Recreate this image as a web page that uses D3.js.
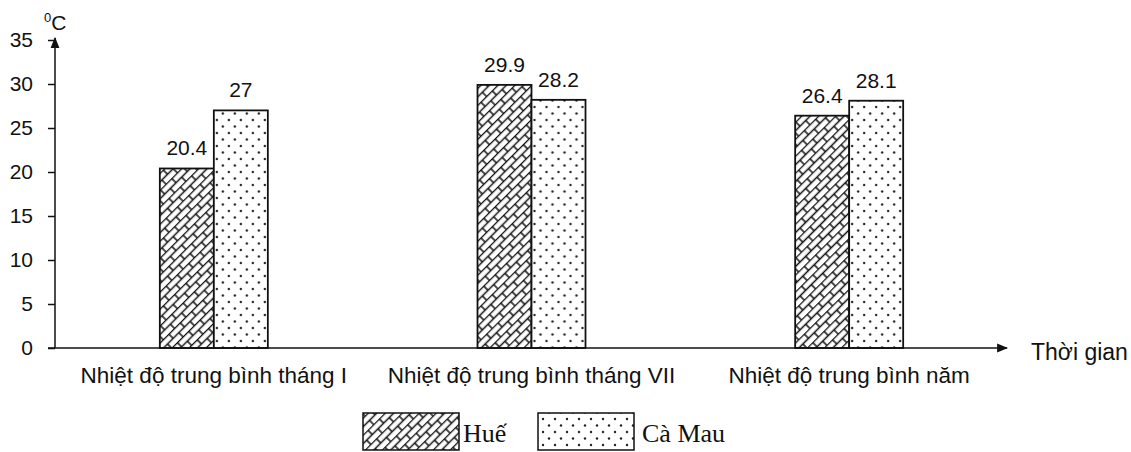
<!DOCTYPE html>
<html>
<head>
<meta charset="utf-8">
<script src="https://cdn.jsdelivr.net/npm/d3@7"></script>
<style>
  body { margin: 0; background: #fff; }
  text { font-family: Arial, "Liberation Sans", sans-serif; fill: #111; }
</style>
</head>
<body>
<script>
const categories = ['Nhiệt độ trung bình tháng I', 'Nhiệt độ trung bình tháng VII', 'Nhiệt độ trung bình năm'];
const series = ['Huế', 'Cà Mau'];
const hue = [20.4, 29.9, 26.4];
const caMau = [27, 28.2, 28.1];
const yTicks = [0, 5, 10, 15, 20, 25, 30, 35];

const width = 1131, height = 452;
const svg = d3.select('body').append('svg')
    .attr('width', width)
    .attr('height', height);

const defs = svg.append('defs');

// brick-like diagonal hatch for Huế
const brick = defs.append('pattern')
    .attr('id', 'brick')
    .attr('patternUnits', 'userSpaceOnUse')
    .attr('width', 16)
    .attr('height', 12)
    .attr('patternTransform', 'rotate(-45)');
brick.append('rect').attr('width', 16).attr('height', 12).attr('fill', '#fff');
brick.append('path')
    .attr('d', 'M0,0.5H16M0,6.5H16M4,0.5V6.5M12,6.5V12.5')
    .attr('stroke', '#111')
    .attr('stroke-width', 1.5)
    .attr('fill', 'none');

// dotted fill for Cà Mau
const dots = defs.append('pattern')
    .attr('id', 'dots')
    .attr('patternUnits', 'userSpaceOnUse')
    .attr('width', 12)
    .attr('height', 13);
dots.append('rect').attr('width', 12).attr('height', 13).attr('fill', '#fff');
dots.append('circle').attr('cx', 3).attr('cy', 3).attr('r', 1.2).attr('fill', '#222');
dots.append('circle').attr('cx', 9).attr('cy', 9.5).attr('r', 1.2).attr('fill', '#222');

const fills = {'Huế': 'url(#brick)', 'Cà Mau': 'url(#dots)'};

const x0 = d3.scaleBand().domain(categories).range([55, 1008]).padding(0);
const x1 = d3.scaleBand().domain(series).range([-54, 54]).padding(0);
const y = d3.scaleLinear().domain([0, 35]).range([348, 40]);

// arrow marker
defs.append('marker')
    .attr('id', 'arrow')
    .attr('viewBox', '0 0 10 10')
    .attr('refX', 9).attr('refY', 5)
    .attr('markerWidth', 11).attr('markerHeight', 11)
    .attr('markerUnits', 'userSpaceOnUse')
    .attr('orient', 'auto')
    .append('path')
    .attr('d', 'M0,1L10,5L0,9Z')
    .attr('fill', '#111');

// bars
const rows = categories.map((c, i) => ({cat: c, values: [
    {s: 'Huế', v: hue[i]}, {s: 'Cà Mau', v: caMau[i]}
]}));

const groups = svg.selectAll('g.grp')
    .data(rows)
    .enter().append('g')
    .attr('class', 'grp')
    .attr('transform', d => `translate(${x0(d.cat) + x0.bandwidth() / 2},0)`);

groups.selectAll('rect')
    .data(d => d.values)
    .enter().append('rect')
    .attr('x', d => x1(d.s))
    .attr('y', d => y(d.v))
    .attr('width', x1.bandwidth())
    .attr('height', d => y(0) - y(d.v))
    .attr('fill', d => fills[d.s])
    .attr('stroke', '#111')
    .attr('stroke-width', 1.8);

groups.selectAll('text.val')
    .data(d => d.values)
    .enter().append('text')
    .attr('class', 'val')
    .attr('x', d => x1(d.s) + x1.bandwidth() / 2)
    .attr('y', d => y(d.v) - 13)
    .attr('text-anchor', 'middle')
    .style('font-size', '21px')
    .text(d => d.v);

// y axis
const yAxis = svg.append('g')
    .attr('transform', 'translate(55,0)')
    .call(d3.axisLeft(y).tickValues(yTicks).tickSize(7).tickPadding(15));
yAxis.select('.domain').remove();
yAxis.selectAll('.tick line').attr('stroke', '#111').attr('stroke-width', 1.5);
yAxis.selectAll('.tick text').style('font-size', '21px').attr('fill', '#111');

svg.append('line')
    .attr('x1', 55).attr('y1', y(0))
    .attr('x2', 55).attr('y2', y(35) - 2)
    .attr('stroke', '#111').attr('stroke-width', 1.5)
    .attr('marker-end', 'url(#arrow)');

// x axis
svg.append('line')
    .attr('x1', 48).attr('y1', y(0))
    .attr('x2', 1007).attr('y2', y(0))
    .attr('stroke', '#111').attr('stroke-width', 1.5)
    .attr('marker-end', 'url(#arrow)');

svg.selectAll('text.cat')
    .data(categories)
    .enter().append('text')
    .attr('class', 'cat')
    .attr('x', d => x0(d) + x0.bandwidth() / 2)
    .attr('y', 383)
    .attr('text-anchor', 'middle')
    .style('font-size', '22.5px')
    .text(d => d);

svg.append('text')
    .attr('x', 1031).attr('y', 360)
    .style('font-size', '23px')
    .text('Thời gian');

// unit label
const unit = svg.append('text')
    .attr('x', 44).attr('y', 30)
    .style('font-size', '21px');
unit.append('tspan').attr('dy', -8).style('font-size', '13px').text('0');
unit.append('tspan').attr('dy', 8).text('C');

// legend
const legend = svg.append('g');
const legendItems = [
    {s: 'Huế', x: 363, w: 96, tx: 463},
    {s: 'Cà Mau', x: 538, w: 96, tx: 642}
];
legend.selectAll('rect')
    .data(legendItems)
    .enter().append('rect')
    .attr('x', d => d.x).attr('y', 413)
    .attr('width', d => d.w).attr('height', 37)
    .attr('fill', d => fills[d.s])
    .attr('stroke', '#111').attr('stroke-width', 1.5);
legend.selectAll('text')
    .data(legendItems)
    .enter().append('text')
    .attr('x', d => d.tx).attr('y', 442)
    .style('font-family', '"Liberation Serif", "Times New Roman", serif')
    .style('font-size', '26px')
    .text(d => d.s);
</script>
</body>
</html>
